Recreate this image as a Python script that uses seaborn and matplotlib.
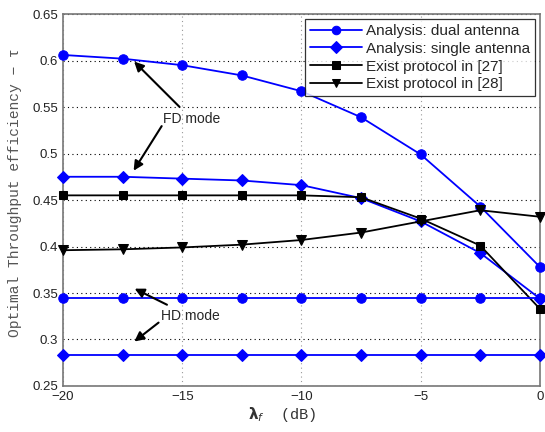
import numpy as np
import pandas as pd
import seaborn as sns
from matplotlib import pyplot as plt

# Values.
lam_db = [-20, -17.5, -15, -12.5, -10, -7.5, -5, -2.5, 0]
fd_dual = [0.606, 0.602, 0.595, 0.584, 0.567, 0.539, 0.499, 0.443, 0.378]
fd_single = [0.475, 0.475, 0.473, 0.471, 0.466, 0.452, 0.427, 0.393, 0.344]
exist_27 = [0.455, 0.455, 0.455, 0.455, 0.455, 0.453, 0.430, 0.401, 0.333]
exist_28 = [0.396, 0.397, 0.399, 0.402, 0.407, 0.415, 0.427, 0.439, 0.432]
hd_dual = [0.345] * 9
hd_single = [0.283] * 9

x_ticks = [-20, -15, -10, -5, 0]
y_ticks = [0.25, 0.3, 0.35, 0.4, 0.45, 0.5, 0.55, 0.6, 0.65]


def main():
    sns.set_style("white")
    plt.rcParams["font.family"] = ["Liberation Sans", "DejaVu Sans"]

    fig = plt.figure(figsize=(5.45, 4.32), dpi=100)
    ax = fig.add_axes([0.1156, 0.1065, 0.875, 0.861])

    series = [
        (fd_dual, "o", 6.8, "blue", "Analysis: dual antenna"),
        (fd_single, "D", 6.3, "blue", "Analysis: single antenna"),
        (exist_27, "s", 6, "black", "Exist protocol in [27]"),
        (exist_28, "v", 7, "black", "Exist protocol in [28]"),
        (hd_dual, "o", 6.8, "blue", None),
        (hd_single, "D", 6.3, "blue", None),
    ]
    for vals, mk, ms, col, lab in series:
        df = pd.DataFrame({"x": lam_db, "y": vals})
        sns.lineplot(data=df, x="x", y="y", ax=ax, color=col, marker=mk,
                     markersize=ms, markeredgecolor=col, linewidth=1.3,
                     label=lab, clip_on=False, zorder=3)

    ax.set_xlim(-20, 0)
    ax.set_ylim(0.25, 0.65)
    ax.set_xticks(x_ticks)
    ax.set_xticklabels(["\u221220", "\u221215", "\u221210", "\u22125", "0"])
    ax.set_yticks(y_ticks)
    ax.set_yticklabels(["0.25", "0.3", "0.35", "0.4", "0.45", "0.5", "0.55", "0.6", "0.65"])
    ax.tick_params(direction="in", length=4, labelsize=9.5, colors="#222222")
    for s in ax.spines.values():
        s.set_color("#777777")
        s.set_linewidth(1.2)

    ax.xaxis.grid(True, linestyle=(0, (1, 3)), color="#999999", linewidth=0.8)
    ax.yaxis.grid(True, linestyle=(0, (1, 3)), color="black", linewidth=0.8)

    ax.set_xlabel(r"$\mathbf{\lambda}_{f}$" + "  (dB)", fontsize=11,
                  family=["Liberation Mono", "DejaVu Sans"], color="#333333")
    ax.set_ylabel("Optimal Throughput efficiency \u2212 \u03c4", fontsize=10.5,
                  family=["Liberation Mono", "DejaVu Sans"], color="#555555")
    ax.xaxis.set_label_coords(0.46, -0.05)
    ax.yaxis.set_label_coords(-0.085, 0.52)

    arrow = dict(arrowstyle="-|>", color="black", lw=1.5, mutation_scale=14)
    ax.annotate("FD mode", xy=(-17.1, 0.601), xytext=(-15.8, 0.537),
                fontsize=10, va="center", arrowprops=arrow)
    ax.annotate("", xy=(-17.1, 0.479), xytext=(-15.8, 0.532), arrowprops=arrow)
    ax.annotate("HD mode", xy=(-17.1, 0.356), xytext=(-15.9, 0.325),
                fontsize=10, va="center", arrowprops=arrow)
    ax.annotate("", xy=(-17.1, 0.296), xytext=(-15.9, 0.320), arrowprops=arrow)

    leg = ax.legend(loc="upper right", fontsize=11, frameon=True, fancybox=False,
                    handlelength=3.4, borderpad=0.3, labelspacing=0.25,
                    borderaxespad=0.35, handletextpad=0.25, markerscale=0.9)
    leg.get_frame().set_edgecolor("black")
    leg.get_frame().set_linewidth(0.9)
    leg.set_zorder(5)

    fig.savefig("out.png", dpi=100)


if __name__ == '__main__':
    main()
